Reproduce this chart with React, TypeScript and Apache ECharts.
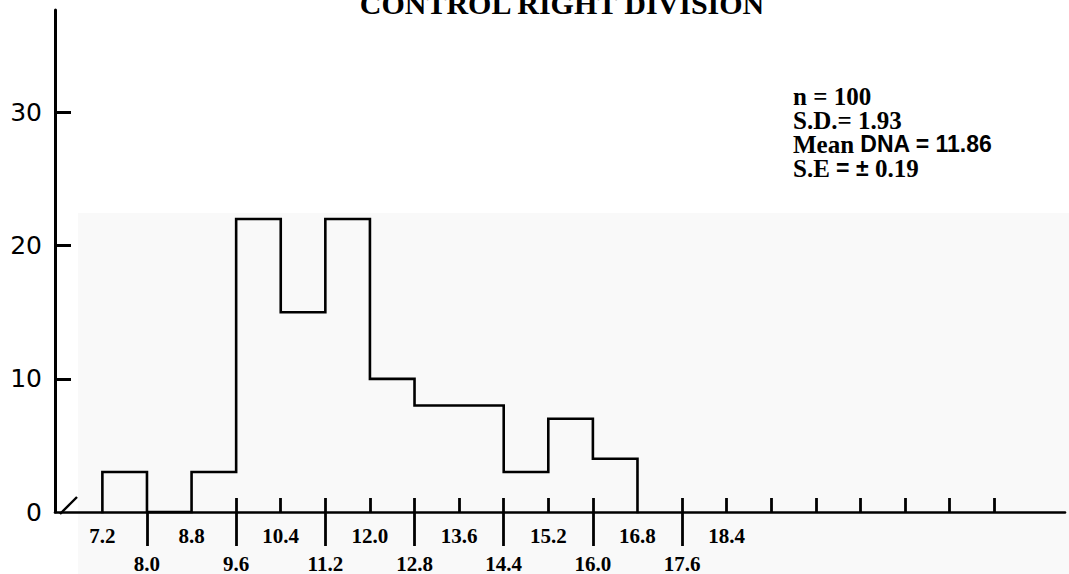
import React, { useEffect, useRef } from "react";
import * as echarts from "echarts";

// Histogram of nuclear DNA values, control right division
const binEdges = [7.2, 8.0, 8.8, 9.6, 10.4, 11.2, 12.0, 12.8, 13.6, 14.4, 15.2, 16.0, 16.8];
const counts = [3, 0, 3, 22, 15, 22, 10, 8, 8, 3, 7, 4];

// Two staggered rows of x labels
const upperLabels = [7.2, 8.8, 10.4, 12.0, 13.6, 15.2, 16.8, 18.4];
const lowerLabels = [8.0, 9.6, 11.2, 12.8, 14.4, 16.0, 17.6];

// Short ticks above the axis, long ticks below it
const upperTicks = [9.6, 10.4, 11.2, 12.0, 12.8, 13.6, 14.4, 15.2, 16.0, 17.6, 18.4, 19.2, 20.0, 20.8, 21.6, 22.4, 23.2];
const lowerTicks = [8.0, 9.6, 11.2, 12.8, 14.4, 16.0, 17.6];

const yTicks = [10, 20, 30];
const yLabels = [0, 10, 20, 30];

const titleText = "CONTROL RIGHT DIVISION";
const statLines = [
  "{s|n = 100}",
  "{s|S.D.= 1.93}",
  "{s|Mean }{b|DNA = 11.86}",
  "{s|S.E }{b|= ± }{s|0.19}",
];

const X_MIN = 6.35;
const X_MAX = 24.47;
const Y_MIN = 0;
const Y_MAX = 37.7;

function buildOutline(): number[][] {
  const pts: number[][] = [[binEdges[0], 0]];
  counts.forEach((c, i) => {
    pts.push([binEdges[i], c], [binEdges[i + 1], c]);
  });
  pts.push([binEdges[binEdges.length - 1], 0]);
  return pts;
}

const fmt = (v: number) => v.toFixed(1);

export default function App() {
  const ref = useRef<HTMLDivElement>(null);

  useEffect(() => {
    if (!ref.current) return;
    const chart = echarts.init(ref.current, undefined, { renderer: "svg" });

    const xLabelStyle = {
      fontFamily: "Liberation Serif",
      fontWeight: "bold" as const,
      fontSize: 21,
      color: "#000",
    };

    chart.setOption({
      animation: false,
      backgroundColor: "#ffffff",
      grid: { left: 55, right: 4, top: 10, bottom: 62, containLabel: false },
      xAxis: [
        {
          type: "value",
          min: X_MIN,
          max: X_MAX,
          position: "bottom",
          axisLine: { show: true, onZero: false, lineStyle: { color: "#000", width: 2.6 } },
          axisTick: {
            show: true,
            customValues: upperTicks,
            inside: true,
            length: 14,
            lineStyle: { color: "#000", width: 2.8 },
          },
          axisLabel: {
            show: true,
            customValues: upperLabels,
            formatter: fmt,
            margin: 13,
            ...xLabelStyle,
          },
          splitLine: { show: false },
        },
        {
          type: "value",
          min: X_MIN,
          max: X_MAX,
          position: "bottom",
          axisLine: { show: false, onZero: false },
          axisTick: {
            show: true,
            customValues: lowerTicks,
            inside: false,
            length: 34,
            lineStyle: { color: "#000", width: 2.8 },
          },
          axisLabel: {
            show: true,
            customValues: lowerLabels,
            formatter: fmt,
            margin: 41,
            ...xLabelStyle,
          },
          splitLine: { show: false },
        },
      ],
      yAxis: {
        type: "value",
        min: Y_MIN,
        max: Y_MAX,
        interval: 10,
        axisLine: { show: true, onZero: false, lineStyle: { color: "#000", width: 3 } },
        axisTick: {
          show: true,
          customValues: yTicks,
          inside: true,
          length: 16,
          lineStyle: { color: "#000", width: 3 },
        },
        axisLabel: {
          show: true,
          customValues: yLabels,
          margin: 13,
          fontFamily: "DejaVu Sans",
          fontSize: 25,
          color: "#000",
        },
        splitLine: { show: false },
      },
      series: [
        {
          type: "line",
          xAxisIndex: 0,
          data: buildOutline(),
          symbol: "none",
          clip: false,
          z: 5,
          lineStyle: { color: "#000", width: 2.6, join: "miter", cap: "square" },
        },
      ],
      graphic: [
        {
          type: "rect",
          z: -10,
          silent: true,
          shape: { x: 78, y: 213, width: 991, height: 361 },
          style: { fill: "#f9f9f9" },
        },
        {
          type: "text",
          x: 562,
          y: 3,
          style: {
            text: titleText,
            fontFamily: "Liberation Serif",
            fontWeight: "bold",
            fontSize: 30,
            fill: "#000",
            align: "center",
            verticalAlign: "middle",
          },
        },
        {
          // Summary statistics block
          type: "text",
          x: 793,
          y: 84,
          style: {
            text: statLines.join("\n"),
            align: "left",
            verticalAlign: "top",
            fill: "#000",
            rich: {
              s: { fontFamily: "Liberation Serif", fontWeight: "bold", fontSize: 25, lineHeight: 24, fill: "#000" },
              b: { fontFamily: "Liberation Sans", fontWeight: "bold", fontSize: 23, lineHeight: 24, fill: "#000" },
            },
          },
        },
        {
          type: "line",
          shape: { x1: 60, y1: 514, x2: 77, y2: 497 },
          style: { stroke: "#000", lineWidth: 2.4 },
        },
      ],
    });

    return () => chart.dispose();
  }, []);

  return (
    <div
      ref={ref}
      style={{ position: "absolute", left: 0, top: 0, width: 1069, height: 574, background: "#fff" }}
    />
  );
}
